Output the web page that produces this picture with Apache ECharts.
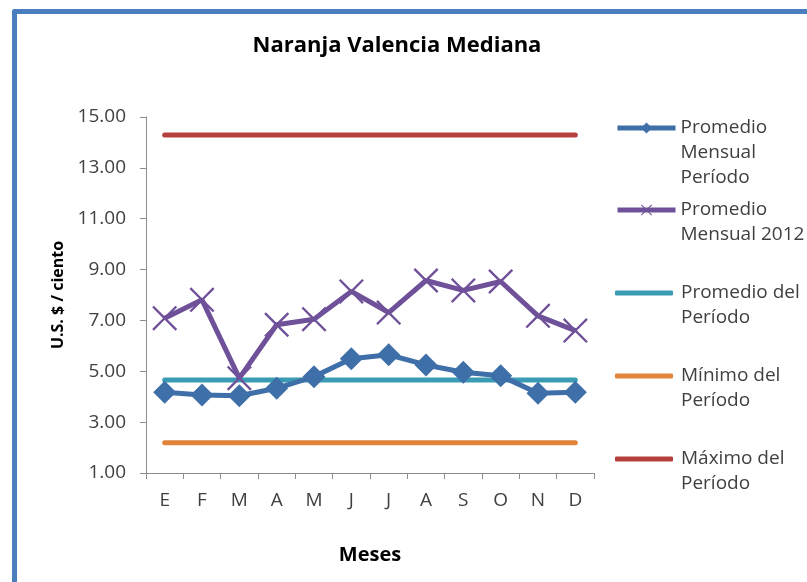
<!DOCTYPE html>
<html>
<head>
<meta charset="utf-8">
<script src="https://cdn.jsdelivr.net/npm/echarts@6/dist/echarts.min.js"></script>
<style>
  html, body { margin: 0; padding: 0; background: #fff; }
  #wrap { position: relative; width: 807px; height: 582px; overflow: hidden; background: #fff; }
  #frame { position: absolute; left: 12px; top: 9px; width: 900px; height: 700px;
           border-left: 5px solid #4a7ebf; border-top: 5px solid #4a7ebf; border-radius: 3px 0 0 0; box-sizing: border-box; }
  #chart { position: absolute; left: 0; top: 0; width: 807px; height: 582px; }
</style>
</head>
<body>
<div id="wrap">
  <div id="frame"></div>
  <div id="chart"></div>
</div>
<script>
// Months (Spanish initials)
const months = ['E', 'F', 'M', 'A', 'M', 'J', 'J', 'A', 'S', 'O', 'N', 'D'];

// U.S. $ per hundred
const promedioMensualPeriodo = [4.18, 4.07, 4.04, 4.33, 4.79, 5.49, 5.65, 5.25, 4.96, 4.82, 4.14, 4.18];
const promedioMensual2012   = [7.09, 7.81, 4.73, 6.83, 7.05, 8.14, 7.31, 8.57, 8.18, 8.53, 7.18, 6.60];
const promedioDelPeriodo    = [4.66, 4.66, 4.66, 4.66, 4.66, 4.66, 4.66, 4.66, 4.66, 4.66, 4.66, 4.66];
const minimoDelPeriodo      = [2.19, 2.19, 2.19, 2.19, 2.19, 2.19, 2.19, 2.19, 2.19, 2.19, 2.19, 2.19];
const maximoDelPeriodo      = [14.29, 14.29, 14.29, 14.29, 14.29, 14.29, 14.29, 14.29, 14.29, 14.29, 14.29, 14.29];

const yTicks = ['1.00', '3.00', '5.00', '7.00', '9.00', '11.00', '13.00', '15.00'];

const FONT = '"Open Sans"';
const TEXT = '#404040';

const names = [
  'Promedio Mensual Período',
  'Promedio Mensual 2012',
  'Promedio del Período',
  'Mínimo del Período',
  'Máximo del Período'
];
const legendLines = [
  ['Promedio', 'Mensual', 'Período'],
  ['Promedio', 'Mensual 2012'],
  ['Promedio del', 'Período'],
  ['Mínimo del', 'Período'],
  ['Máximo del', 'Período']
];
const colors = ['#3f6fa9', '#6f519a', '#3a9cb4', '#e0843a', '#b7403e'];

// cross marker used on the 2012 series
const crossPath = 'path://M0,1.6 L1.6,0 L12,10.4 L22.4,0 L24,1.6 L13.6,12 L24,22.4 L22.4,24 L12,13.6 L1.6,24 L0,22.4 L10.4,12 Z';

// One legend per series; blank leading lines push the text down so the
// icon sits beside the first line of each entry.
const LH = 25;
const legendIconY = [128, 210, 293, 376, 459];
const legends = names.map((name, i) => {
  const n = legendLines[i].length;
  const H = (2 * n - 1) * LH;
  const withMarker = i < 2;
  const item = withMarker ? { name } : { name, icon: 'roundRect' };
  return {
    data: [item],
    orient: 'vertical',
    left: 615,
    top: legendIconY[i] - H / 2,
    padding: 0,
    itemWidth: 58,
    itemHeight: withMarker ? 14 : 5,
    itemGap: 0,
    selectedMode: false,
    lineStyle: { width: 5 },
    formatter: () => '\n'.repeat(n - 1) + legendLines[i].join('\n'),
    textStyle: {
      fontFamily: FONT, fontSize: 19, color: TEXT, lineHeight: LH,
      padding: [0, 0, 0, withMarker ? 0 : 3]
    }
  };
});

const chart = echarts.init(document.getElementById('chart'), null, { renderer: 'canvas' });

const flat = (name, data, color) => ({
  name, type: 'line', data,
  symbol: 'none', showSymbol: false,
  lineStyle: { color, width: 5, cap: 'round' },
  itemStyle: { color },
  emphasis: { disabled: true }
});

chart.setOption({
  animation: false,
  backgroundColor: 'transparent',
  title: {
    text: 'Naranja Valencia Mediana',
    left: 392, top: 30, textAlign: 'center',
    textStyle: { fontFamily: FONT, fontSize: 22, fontWeight: 'bold', color: '#000' }
  },
  legend: legends,
  grid: { left: 146, right: 213, top: 117, bottom: 109 },
  xAxis: {
    type: 'category',
    data: months,
    boundaryGap: true,
    name: 'Meses',
    nameLocation: 'middle',
    nameGap: 72,
    nameTextStyle: { fontFamily: FONT, fontSize: 20, fontWeight: 'bold', color: '#000' },
    axisLine: { lineStyle: { color: '#8c8c8c', width: 1 } },
    axisTick: { show: true, length: 6, inside: false, lineStyle: { color: '#8c8c8c' } },
    axisLabel: { fontFamily: FONT, fontSize: 19, color: TEXT, margin: 18 },
    splitLine: { show: false }
  },
  yAxis: {
    type: 'value',
    min: 1, max: 15, interval: 2,
    name: 'U.S. $ / ciento',
    nameLocation: 'middle',
    nameGap: 80,
    nameRotate: 90,
    nameTextStyle: { fontFamily: FONT, fontSize: 16, fontWeight: 'bold', color: '#000' },
    axisLine: { show: true, lineStyle: { color: '#8c8c8c', width: 1 } },
    axisTick: { show: true, length: 6, lineStyle: { color: '#8c8c8c' } },
    axisLabel: {
      fontFamily: FONT, fontSize: 19, color: TEXT, margin: 20,
      formatter: v => yTicks[Math.round((v - 1) / 2)]
    },
    splitLine: { show: false }
  },
  series: [
    {
      name: names[0], type: 'line', data: promedioMensualPeriodo, z: 5,
      symbol: 'diamond', symbolSize: [23, 23], showSymbol: true,
      lineStyle: { color: colors[0], width: 5 },
      itemStyle: { color: colors[0], borderWidth: 0 },
      emphasis: { disabled: true }
    },
    {
      name: names[1], type: 'line', data: promedioMensual2012, z: 4,
      symbol: crossPath, symbolSize: [25, 25], showSymbol: true,
      lineStyle: { color: colors[1], width: 5 },
      itemStyle: { color: colors[1], borderWidth: 0 },
      emphasis: { disabled: true }
    },
    flat(names[2], promedioDelPeriodo, colors[2]),
    flat(names[3], minimoDelPeriodo, colors[3]),
    flat(names[4], maximoDelPeriodo, colors[4])
  ]
});
</script>
</body>
</html>
